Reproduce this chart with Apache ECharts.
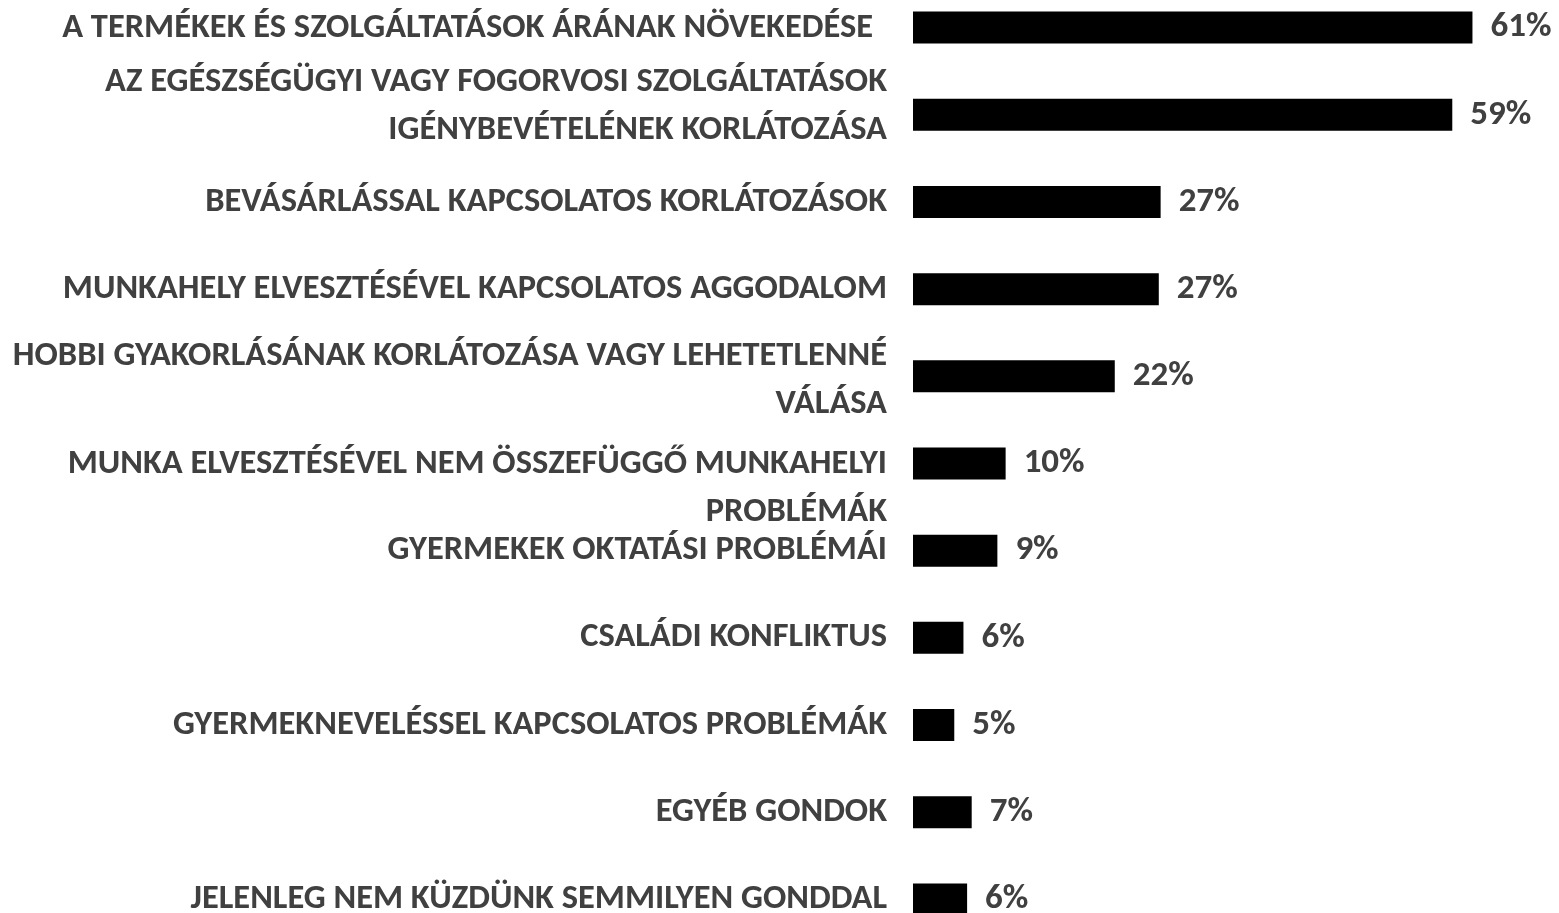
<!DOCTYPE html>
<html>
<head>
<meta charset="utf-8">
<script src="https://cdn.jsdelivr.net/npm/echarts@6/dist/echarts.min.js"></script>
<style>
html,body{margin:0;padding:0;background:#fff;overflow:hidden;width:1559px;height:913px;position:relative;}
#chart{position:absolute;left:0;top:-16px;width:1559px;height:959px;}
</style>
</head>
<body>
<div id="chart"></div>
<script>
// ---- data ----
const categories = [
  "A TERMÉKEK ÉS SZOLGÁLTATÁSOK ÁRÁNAK NÖVEKEDÉSE",
  "AZ EGÉSZSÉGÜGYI VAGY FOGORVOSI SZOLGÁLTATÁSOK\nIGÉNYBEVÉTELÉNEK KORLÁTOZÁSA",
  "BEVÁSÁRLÁSSAL KAPCSOLATOS KORLÁTOZÁSOK",
  "MUNKAHELY ELVESZTÉSÉVEL KAPCSOLATOS AGGODALOM",
  "HOBBI GYAKORLÁSÁNAK KORLÁTOZÁSA VAGY LEHETETLENNÉ\nVÁLÁSA",
  "MUNKA ELVESZTÉSÉVEL NEM ÖSSZEFÜGGŐ MUNKAHELYI\nPROBLÉMÁK",
  "GYERMEKEK OKTATÁSI PROBLÉMÁI",
  "CSALÁDI KONFLIKTUS",
  "GYERMEKNEVELÉSSEL KAPCSOLATOS PROBLÉMÁK",
  "EGYÉB GONDOK",
  "JELENLEG NEM KÜZDÜNK SEMMILYEN GONDDAL"
];
// bar lengths (percent)
const values = [61.0, 58.8, 27.0, 26.8, 22.0, 10.1, 9.2, 5.5, 4.5, 6.4, 5.9];
// printed value labels
const valueLabels = ["61%", "59%", "27%", "27%", "22%", "10%", "9%", "6%", "5%", "7%", "6%"];
// vertical nudge of each category label relative to its bar (px)
const labelShift = [1, -8, 0, 0, 4.5, 25, 0, 0, 0, 0, 0];

// ---- font fitting ----
const FAMILY = "Carlito, Calibri, Lato, 'Noto Sans', sans-serif";
const mctx = document.createElement('canvas').getContext('2d');
function fit(text, target) {
  mctx.font = "bold 100px " + FAMILY;
  return 100 * target / mctx.measureText(text).width;
}
const catSize = fit("A TERMÉKEK ÉS SZOLGÁLTATÁSOK ÁRÁNAK NÖVEKEDÉSE", 811);
const valSize = fit("61%", 61);
const TEXT = "#404040";
const LINE_H = 48;

const txt = { color: TEXT, fontFamily: FAMILY, fontWeight: 'bold', fontSize: catSize, lineHeight: LINE_H, align: 'right' };
const rich = {
  t: Object.assign({}, txt),
  tp: Object.assign({}, txt, { padding: [0, 14, 0, 0] })
};
labelShift.forEach((d, i) => {
  if (d !== 0) rich['g' + i] = { fontSize: 1, lineHeight: Math.abs(d) * 2, align: 'right' };
});

function catFormatter(value, idx) {
  const tag = idx === 0 ? 'tp' : 't';
  const lines = String(value).split('\n').map(l => '{' + tag + '|' + l + '}');
  const d = labelShift[idx];
  if (d > 0) lines.unshift('{g' + idx + '| }');
  if (d < 0) lines.push('{g' + idx + '| }');
  return lines.join('\n');
}

const chart = echarts.init(document.getElementById('chart'), null, { renderer: 'canvas' });
chart.setOption({
  backgroundColor: '#ffffff',
  animation: false,
  grid: { left: 913, right: 4, top: 0, bottom: 0, containLabel: false },
  xAxis: {
    type: 'value', min: 0, max: 70, show: false,
    splitLine: { show: false }
  },
  yAxis: {
    type: 'category',
    inverse: true,
    data: categories,
    axisLine: { show: false },
    axisTick: { show: false },
    splitLine: { show: false },
    axisLabel: {
      interval: 0,
      margin: 26,
      color: TEXT,
      fontFamily: FAMILY,
      fontWeight: 'bold',
      fontSize: catSize,
      lineHeight: LINE_H,
      align: 'right',
      formatter: catFormatter,
      rich: rich
    }
  },
  series: [{
    type: 'bar',
    data: values,
    barWidth: 32,
    itemStyle: { color: '#000000' },
    label: {
      show: true,
      position: 'right',
      distance: 18,
      color: TEXT,
      fontFamily: FAMILY,
      fontWeight: 'bold',
      fontSize: valSize,
      formatter: p => valueLabels[p.dataIndex]
    }
  }]
});
</script>
</body>
</html>
